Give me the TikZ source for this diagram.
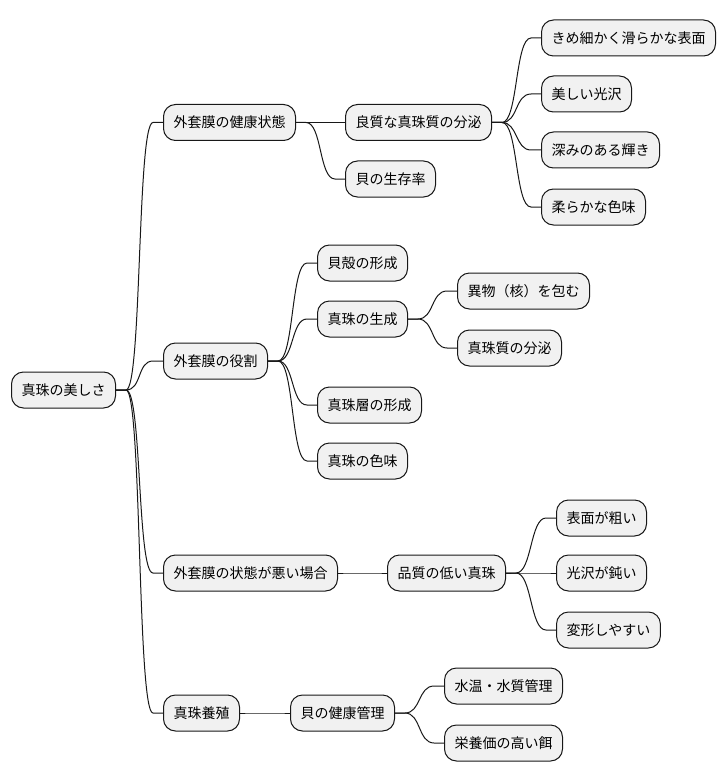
\documentclass[tikz,border=0pt]{standalone}
\usepackage{fontspec}
\setmainfont{Noto Sans CJK JP}
\definecolor{boxfill}{HTML}{F1F1F1}
\definecolor{boxline}{HTML}{181818}
\tikzset{
  topic/.style={draw=boxline, fill=boxfill, line width=0.75pt, rounded corners=9pt,
    minimum height=27pt, inner xsep=7.5pt, anchor=west, font=\fontsize{10.5pt}{12pt}\selectfont},
  branch/.style={draw=boxline, line width=0.75pt,
    to path={-- ++(7.5pt,0) .. controls +(12pt,0) and +(-12pt,0) .. ([xshift=-7.5pt]\tikztotarget) -- (\tikztotarget)}}
}
\begin{document}
\begin{tikzpicture}[x=0.75pt, y=-0.75pt]
    \useasboundingbox (0,0) rectangle (726,781);

    % Root
    \node[topic] (root) at (11,390) {真珠の美しさ};

    % First level
    \node[topic] (health) at (163,122.5) {外套膜の健康状態};
    \node[topic] (role) at (163,361) {外套膜の役割};
    \node[topic] (bad) at (163,573) {外套膜の状態が悪い場合};
    \node[topic] (farm) at (163,713) {真珠養殖};

    % Health branch
    \node[topic] (secrete) at (345,122.5) {良質な真珠質の分泌};
    \node[topic] (survive) at (345,179) {貝の生存率};
    \node[topic] (smooth) at (541,38) {きめ細かく滑らかな表面};
    \node[topic] (luster) at (541,94) {美しい光沢};
    \node[topic] (depth) at (541,150) {深みのある輝き};
    \node[topic] (tint) at (541,207) {柔らかな色味};

    % Role branch
    \node[topic] (shell) at (317,263) {貝殻の形成};
    \node[topic] (pearlgen) at (317,319) {真珠の生成};
    \node[topic] (nacre) at (317,405) {真珠層の形成};
    \node[topic] (color) at (317,461) {真珠の色味};
    \node[topic] (wrap) at (457,291) {異物（核）を包む};
    \node[topic] (nacresec) at (457,348) {真珠質の分泌};

    % Bad condition branch
    \node[topic] (lowq) at (387,573) {品質の低い真珠};
    \node[topic] (rough) at (556,518) {表面が粗い};
    \node[topic] (dull) at (556,573) {光沢が鈍い};
    \node[topic] (deform) at (556,630) {変形しやすい};

    % Farming branch
    \node[topic] (care) at (290,713) {貝の健康管理};
    \node[topic] (water) at (444,686) {水温・水質管理};
    \node[topic] (feed) at (444,743) {栄養価の高い餌};

    % Connectors
    \foreach \a/\b in {root/health, root/role, root/bad, root/farm,
        health/secrete, health/survive,
        secrete/smooth, secrete/luster, secrete/depth, secrete/tint,
        role/shell, role/pearlgen, role/nacre, role/color,
        pearlgen/wrap, pearlgen/nacresec,
        bad/lowq, lowq/rough, lowq/dull, lowq/deform,
        farm/care, care/water, care/feed}
        \draw[branch] (\a.east) to (\b.west);
\end{tikzpicture}
\end{document}
